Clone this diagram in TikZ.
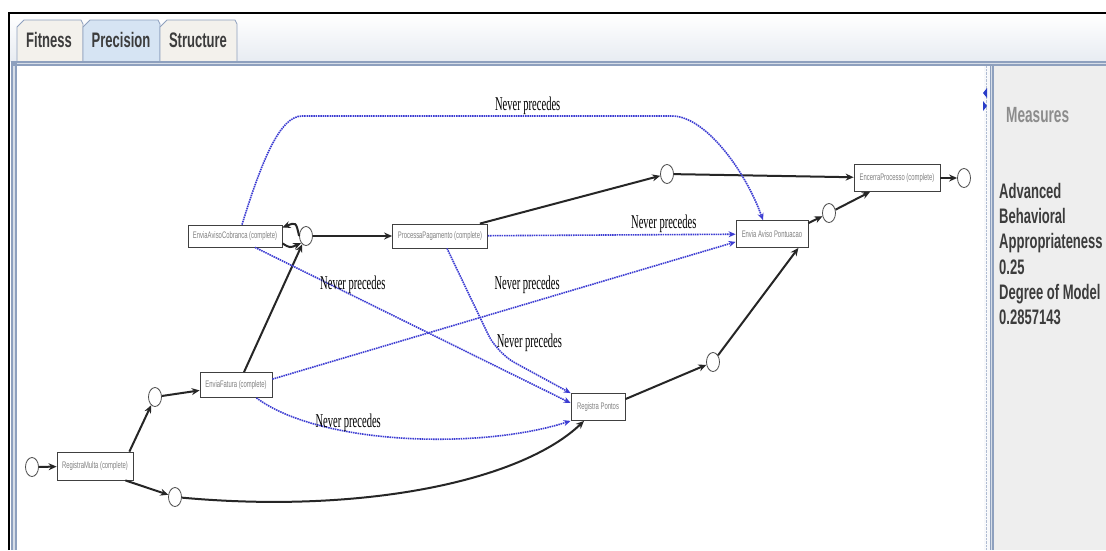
\documentclass[tikz,border=0pt]{standalone}
\usepackage{fontspec}
\setmainfont{Liberation Serif}
\newfontfamily\narrowsans[FakeStretch=0.62]{Liberation Sans}
\newfontfamily\narrowserif[FakeStretch=0.54]{Liberation Serif}
\usetikzlibrary{arrows.meta, shapes.geometric, positioning, calc}
\definecolor{cN}{RGB}{60,60,210}
\definecolor{cA}{RGB}{40,60,200}
\definecolor{cT}{RGB}{142,160,190}
\definecolor{cTab}{RGB}{243,241,236}
\definecolor{cSel}{RGB}{214,228,243}
\definecolor{cBar}{RGB}{232,236,242}
\definecolor{cP}{RGB}{238,238,238}
\definecolor{cTx}{RGB}{60,60,60}

\begin{document}
\begin{tikzpicture}[x=1pt, y=-1pt, >={Stealth[length=8pt,width=7pt]},
   trans/.style={draw=black!75, line width=0.8pt, fill=white, minimum height=24pt, inner sep=1pt,
      font=\narrowsans\fontsize{9.5}{10}\selectfont, text=black!50},
   place/.style={ellipse, draw=black!70, line width=0.8pt, fill=white, minimum width=13pt,
      minimum height=19pt, inner sep=0pt},
   flow/.style={->, line width=2pt, black!85},
   never/.style={-{Stealth[length=7pt,width=6pt]}, cN, line width=1.6pt, dash pattern=on 1.5pt off 0.8pt},
   nlab/.style={font=\narrowserif\fontsize{19.5}{19.5}\selectfont, text=black, inner sep=1pt},
   tabedge/.style={draw=cT, line width=0.8pt},
   tablab/.style={font=\narrowsans\bfseries\fontsize{21}{21}\selectfont, text=cTx}]

   % Window frame and tabs
   \useasboundingbox (0,0) rectangle (1106,550);
   \fill[white] (0,0) rectangle (1106,550);
   \shade[top color=white, bottom color=cBar] (10,14) rectangle (1106,61);
   \draw[black, line width=1.5pt] (9,550) -- (9,13) -- (1106,13);
   \draw[tabedge, fill=cTab] (17,61) -- (17,27) -- (24,20) -- (81,20) -- (83,24) -- (83,61);
   \draw[tabedge, fill=cSel] (83,61) -- (83,27) -- (90,20) -- (158,20) -- (160,24) -- (160,61);
   \draw[tabedge, fill=cTab] (160,61) -- (160,27) -- (167,20) -- (235,20) -- (237,24) -- (237,61);
   \node[tablab] (tfit) at (49,40) {Fitness};
   \node[tablab] (tpre) at (121,40) {Precision};
   \node[tablab] (tstr) at (198,40) {Structure};
   \fill[cT] (11,61) rectangle (1106,66);
   \fill[cT!35] (11,63) rectangle (1106,64);
   \fill[cT] (11,61) rectangle (17,550);
   \fill[cT!35] (13,66) rectangle (15,550);
   \fill[white] (17,66) rectangle (984,550);

   % Splitter and measures panel
   \fill[white!94!cT] (984,66) rectangle (990,550);
   \draw[cT!70, densely dotted] (986,66) -- (986,550);
   \fill[cT] (990,66) rectangle (994,550);
   \fill[cT!35] (991,66) rectangle (992,550);
   \fill[cP] (994,66) rectangle (1106,550);
   \fill[cA] (987,88) -- (983,93) -- (987,98) -- cycle;
   \fill[cA] (983,101) -- (987,106) -- (983,111) -- cycle;
   \node[anchor=base west, inner sep=0pt, font=\narrowsans\bfseries\fontsize{22}{25}\selectfont,
      text=black!45] (meas) at (1006,122) {Measures};
   \node[anchor=north west, inner sep=0pt, align=left, font=\narrowsans\bfseries\fontsize{21}{25.2}\selectfont,
      text=cTx] (vals) at (999,183) {Advanced\\Behavioral\\Appropriateness\\0.25\\Degree of Model\\0.2857143};

   % Nodes
   \node[place] (src) at (32,467) {};
   \node[trans, minimum width=76pt, minimum height=28pt] (rm) at (95,466) {RegistraMulta (complete)};
   \node[place] (p1) at (155,397) {};
   \node[place] (p2) at (175,497) {};
   \node[trans, minimum width=72pt, minimum height=25pt] (ef) at (236,385) {EnviaFatura (complete)};
   \node[trans, minimum width=94pt, minimum height=22pt] (eac) at (235,236) {EnviaAvisoCobranca (complete)};
   \node[place] (p3) at (306,236) {};
   \node[trans, minimum width=95pt] (pp) at (440,236) {ProcessaPagamento (complete)};
   \node[place] (p4) at (667,174) {};
   \node[trans, minimum width=86pt, minimum height=27pt] (ep) at (897,178) {EncerraProcesso (complete)};
   \node[place] (snk) at (964,178) {};
   \node[trans, minimum width=72pt, minimum height=27pt] (eap) at (772,234) {Envia Aviso Pontuacao};
   \node[place] (p5) at (829,213) {};
   \node[trans, minimum width=54pt, minimum height=27pt] (rp) at (598,407) {Registra Pontos};
   \node[place] (p6) at (713,362) {};

   % Edges
   \path[flow]
   (src) edge (rm)
   ([xshift=-4pt]rm.north east) edge (p1)
   (p1) edge (ef)
   ([xshift=8pt]ef.north) edge (p3)
   ([xshift=-8pt]rm.south east) edge (p2)
   (p3) edge (pp)
   ([xshift=-8pt]pp.north east) edge (p4)
   (p4) edge (ep)
   (ep) edge (snk)
   ([yshift=-3pt]eap.north east) edge (p5)
   (p5) edge ([xshift=-27pt]ep.south)
   ([yshift=-6pt]rp.north east) edge (p6)
   (p6) edge ([xshift=-10pt]eap.south east);
   \draw[flow] (p3.west) .. controls (296,222) .. ([yshift=-3pt]eac.north east);
   \draw[flow] ([yshift=4pt]eac.south east) .. controls (290,248) .. (p3.south west);
   \draw[flow] (p2) .. controls (360,514) and (520,482) .. ([xshift=-14pt]rp.south);

   % Never precedes
   \draw[never] ([xshift=7pt]eac.north) .. controls (262,160) and (280,116) .. (302,116)
      -- node[nlab, above, pos=0.61] {Never precedes} (672,116)
      .. controls (705,116) and (745,170) .. ([xshift=-9pt]eap.north);
   \draw[never] (pp) -- node[nlab, above, pos=0.71] {Never precedes} (eap);
   \draw[never] ([yshift=-7pt]ef.north east) -- node[nlab, above, pos=0.55, yshift=8pt] {Never precedes}
      ([yshift=6pt]eap.south west);
   \draw[never] ([xshift=20pt]eac.south) -- node[nlab, above, pos=0.31] {Never precedes} ([yshift=4pt]rp.west);
   \draw[never, rounded corners=20pt] ([xshift=7pt]pp.south) -- (497,353)
      node[nlab, anchor=south west, xshift=-2pt] {Never precedes} -- (rp.north west);
   \draw[never] ([xshift=-16pt]ef.south east) .. controls (320,445) and (480,450) ..
      node[nlab, pos=0.34, above=-2pt] {Never precedes} (rp.south west);
\end{tikzpicture}
\end{document}
